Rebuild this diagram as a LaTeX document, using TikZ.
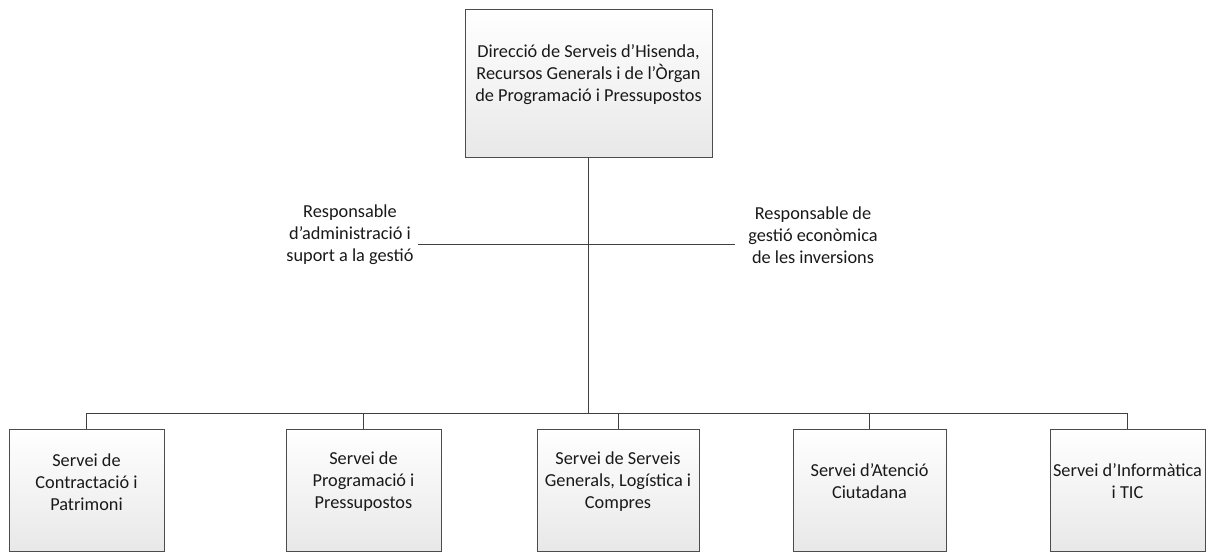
\documentclass[tikz,border=0pt]{standalone}
\usepackage{fontspec}
\setmainfont{Carlito}
\begin{document}
\begin{tikzpicture}[x=1pt,y=-1pt,
  boxshape/.style={draw=black!70,line width=0.9pt,top color=white,bottom color=black!9,inner sep=0pt,rectangle},
  boxtext/.style={align=center,font=\fontsize{18.3}{22}\selectfont,text=black!90,inner sep=0pt},
  conn/.style={draw=black!75,line width=0.9pt}]
\useasboundingbox (0,0) rectangle (1206,552);
% top box
\node[boxshape,minimum width=247pt,minimum height=148pt] (top) at (588.5,83) {};
\node[boxtext] (toptxt) at (588.5,75) {Direcció de Serveis d’Hisenda,\\Recursos Generals i de l’Òrgan\\de Programació i Pressupostos};
% bottom boxes
\node[boxshape,minimum width=155pt,minimum height=122pt] (b1) at (86.5,490) {};
\node[boxshape,minimum width=155pt,minimum height=122pt] (b2) at (363.5,490) {};
\node[boxshape,minimum width=162pt,minimum height=122pt] (b3) at (618,490) {};
\node[boxshape,minimum width=153pt,minimum height=122pt] (b4) at (869.5,490) {};
\node[boxshape,minimum width=155pt,minimum height=122pt] (b5) at (1127.5,490) {};
\node[boxtext] (t1) at (86.5,482) {Servei de\\Contractació i\\Patrimoni};
\node[boxtext] (t2) at (363.5,482) {Servei de\\Programació i\\Pressupostos};
\node[boxtext] (t3) at (618,482) {Servei de Serveis\\Generals, Logística i\\Compres};
\node[boxtext] (t4) at (869.5,481) {Servei d’Atenció\\Ciutadana};
\node[boxtext] (t5) at (1127.5,481) {Servei d’Informàtica\\i TIC};
% side labels
\node[boxtext] (la) at (350,235) {Responsable\\d’administració i\\suport a la gestió};
\node[boxtext] (lb) at (813,235) {Responsable de\\gestió econòmica\\de les inversions};
\coordinate (bus) at (588,413);
\coordinate (sl) at (418,244);
\coordinate (sr) at (735,244);
% connectors
\draw[conn] (top.south -| bus) -- (bus);
\draw[conn] (sl) -- (sr);
\draw[conn] (b1.north) -- (b1.north |- bus) -- (b5.north |- bus) -- (b5.north);
\draw[conn] (b2.north) -- (b2.north |- bus);
\draw[conn] (b3.north) -- (b3.north |- bus);
\draw[conn] (b4.north) -- (b4.north |- bus);
\end{tikzpicture}
\end{document}
